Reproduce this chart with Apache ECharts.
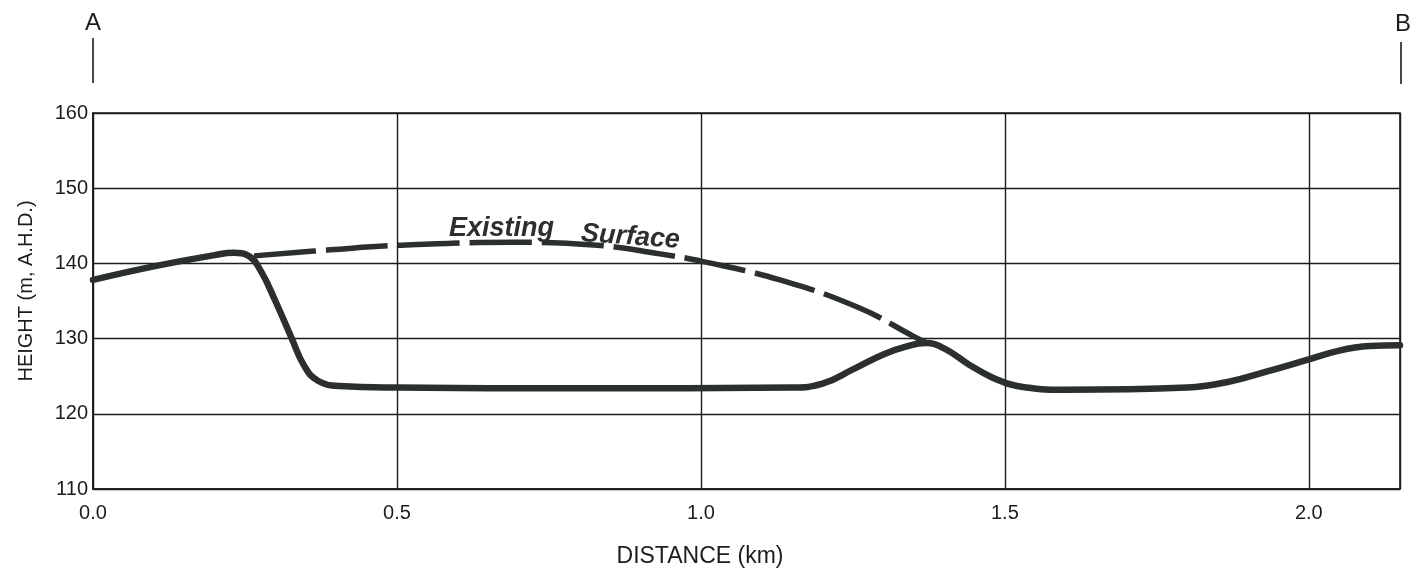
<!DOCTYPE html>
<html>
<head>
<meta charset="utf-8">
<script src="https://cdn.jsdelivr.net/npm/echarts@6/dist/echarts.min.js"></script>
<style>
html,body{margin:0;padding:0;background:#fff;}
#chart{width:1416px;height:579px;}
</style>
</head>
<body>
<div id="chart"></div>
<script>
// Excavated / final profile (distance km, height m)
var finalProfile = [
  [0, 137.8], [0.1, 139.6], [0.2, 141.1],
  [0.232, 141.4], [0.256, 141.0], [0.276, 139.0], [0.3, 135.0],
  [0.326, 130.2], [0.348, 126.3], [0.37, 124.4],
  [0.405, 123.7], [0.5, 123.5], [0.8, 123.4],
  [1.15, 123.5], [1.2, 124.0], [1.25, 125.9], [1.3, 127.9],
  [1.34, 129.0], [1.37, 129.4], [1.4, 128.7], [1.44, 126.6],
  [1.48, 124.8], [1.52, 123.7], [1.6, 123.2], [1.8, 123.5],
  [1.87, 124.3], [1.93, 125.6], [1.99, 127.0], [2.05, 128.4],
  [2.1, 129.0], [2.15, 129.1]
];
// Existing surface (dashed) where it departs from the final profile
var existingSurface = [
  [0.265, 141.0], [0.39, 141.8], [0.5, 142.4], [0.69, 142.8],
  [0.83, 142.4], [0.93, 141.3], [1.0, 140.3], [1.13, 137.8],
  [1.26, 134.1], [1.35, 130.3], [1.372, 129.4]
];
var xTicks = [0.0, 0.5, 1.0, 1.5, 2.0];
var yTicks = [110, 120, 130, 140, 150, 160];
var xName = 'DISTANCE (km)';
var yName = 'HEIGHT (m, A.H.D.)';
var surfaceLabel = ['Existing', 'Surface'];
var endLabels = ['A', 'B'];

var FONT = '"Liberation Sans", Arial, Helvetica, sans-serif';
var INK = '#1c1c1c';
var LINE = '#2b302f';

var chart = echarts.init(document.getElementById('chart'), null, {renderer: 'canvas'});
chart.setOption({
  backgroundColor: '#ffffff',
  animation: false,
  grid: {
    left: 93, right: 16, top: 113, bottom: 90,
    show: true, borderColor: INK, borderWidth: 1.6, backgroundColor: 'transparent'
  },
  xAxis: {
    type: 'value', min: xTicks[0], max: 2.15, interval: 0.5,
    axisLine: {show: true, lineStyle: {color: INK, width: 1.6}},
    axisTick: {show: false},
    axisLabel: {
      fontFamily: FONT, fontSize: 20, color: INK, margin: 14,
      showMaxLabel: false,
      formatter: function (v) { return v.toFixed(1); }
    },
    splitLine: {show: true, lineStyle: {color: INK, width: 1.4}}
  },
  yAxis: {
    type: 'value', min: yTicks[0], max: yTicks[yTicks.length - 1], interval: 10,
    axisLine: {show: true, lineStyle: {color: INK, width: 1.6}},
    axisTick: {show: false},
    axisLabel: {fontFamily: FONT, fontSize: 20, color: INK, margin: 5},
    splitLine: {show: true, lineStyle: {color: INK, width: 1.4}}
  },
  series: [
    {
      name: 'Final profile', type: 'line', data: finalProfile,
      smooth: 0.45, symbol: 'none',
      lineStyle: {color: LINE, width: 6.5, cap: 'round', join: 'round'},
      z: 3
    },
    {
      name: 'Existing surface', type: 'line', data: existingSurface,
      smooth: 0.45, symbol: 'none',
      lineStyle: {color: LINE, width: 5.5, type: [62, 10], cap: 'butt'},
      z: 2
    }
  ],
  graphic: [
    {type: 'text', x: 449, y: 215, z: 10,
     style: {text: surfaceLabel[0], font: 'italic bold 27px ' + FONT, fill: LINE}},
    {type: 'text', x: 582, y: 220, rotation: -0.07, z: 10,
     style: {text: surfaceLabel[1], font: 'italic bold 27px ' + FONT, fill: LINE}},
    {type: 'text', x: 26, y: 291, rotation: Math.PI / 2,
     style: {text: yName, font: '20px ' + FONT, fill: INK, align: 'center', verticalAlign: 'middle'}},
    {type: 'text', x: 700, y: 557,
     style: {text: xName, font: '23px ' + FONT, fill: INK, align: 'center', verticalAlign: 'middle'}},
    {type: 'text', x: 93, y: 23,
     style: {text: endLabels[0], font: '24px ' + FONT, fill: INK, align: 'center', verticalAlign: 'middle'}},
    {type: 'line', shape: {x1: 93, y1: 38, x2: 93, y2: 83}, style: {stroke: INK, lineWidth: 1.6}},
    {type: 'text', x: 1403, y: 24,
     style: {text: endLabels[1], font: '24px ' + FONT, fill: INK, align: 'center', verticalAlign: 'middle'}},
    {type: 'line', shape: {x1: 1401, y1: 42, x2: 1401, y2: 84}, style: {stroke: INK, lineWidth: 1.6}}
  ]
});
</script>
</body>
</html>
